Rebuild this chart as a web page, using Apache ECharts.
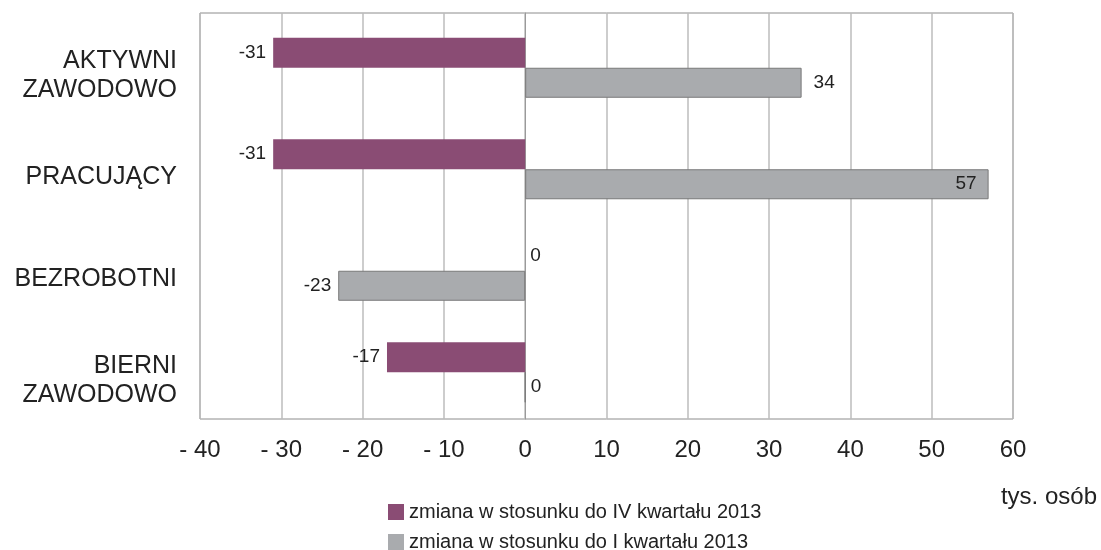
<!DOCTYPE html>
<html>
<head>
<meta charset="utf-8">
<title>Zmiany aktywności zawodowej</title>
<script src="https://cdn.jsdelivr.net/npm/echarts@6/dist/echarts.min.js"></script>
<style>
  html, body { margin: 0; padding: 0; background: #fff; }
  #chart { width: 1101px; height: 550px; }
</style>
</head>
<body>
<div id="chart"></div>
<script>
// kategorie od góry do dołu
const categories = ['AKTYWNI\nZAWODOWO', 'PRACUJĄCY', 'BEZROBOTNI', 'BIERNI\nZAWODOWO'];
const seriesNames = ['zmiana w stosunku do IV kwartału 2013', 'zmiana w stosunku do I kwartału 2013'];
const vsQ4 = [-31, -31, 0, -17];
const vsQ1 = [34, 57, -23, 0];
const xTicks = { min: -40, max: 60, step: 10 };
const unitLabel = 'tys. osób';

const font = '"Liberation Sans", Arial, sans-serif';
const purple = '#8a4c74';
const grey = '#a9abae';

// pozycja etykiety zależnie od znaku i długości słupka
function labelFor(v) {
    if (v >= 50) return { position: 'insideRight', distance: 12 };
    if (v < 0) return { position: 'left', distance: 7 };
    if (v === 0) return { position: 'right', distance: 5 };
    return { position: 'right', distance: 12 };
}

function makeData(values) {
    return values.map(v => ({ value: v, label: labelFor(v) }));
}

// jedna legenda na wiersz, żeby się nie zawijała
function legendRow(name, top) {
    return {
        left: 388, top: top,
        padding: 0,
        itemWidth: 16, itemHeight: 16,
        icon: 'rect',
        itemStyle: { borderWidth: 0 },
        textStyle: { fontSize: 20, color: '#222', fontFamily: font },
        data: [name]
    };
}

const chart = echarts.init(document.getElementById('chart'));
chart.setOption({
    animation: false,
    textStyle: { fontFamily: font },
    grid: {
        left: 200, right: 88, top: 13, bottom: 131,
        show: true, borderColor: '#8c8c8c', borderWidth: 1
    },
    legend: [legendRow(seriesNames[0], 502), legendRow(seriesNames[1], 532)],
    graphic: [{
        type: 'text', right: 4, top: 485,
        style: { text: unitLabel, fontSize: 24, fill: '#222', fontFamily: font }
    }],
    xAxis: {
        type: 'value',
        min: xTicks.min, max: xTicks.max, interval: xTicks.step,
        axisLine: { show: false },
        axisTick: { show: false },
        splitLine: { show: true, lineStyle: { color: '#bdbdbd', width: 1.5 } },
        axisLabel: {
            fontSize: 24, color: '#222', margin: 19,
            formatter: v => v < 0 ? '- ' + Math.abs(v) : String(v)
        }
    },
    yAxis: {
        type: 'category',
        inverse: true,
        data: categories,
        axisLine: { show: true, lineStyle: { color: '#9a9a9a' } },
        axisTick: { show: false },
        axisLabel: {
            fontSize: 25, color: '#222', margin: 23, lineHeight: 29,
            align: 'right',
            // pusta linia przesuwa napis lekko w dół, jak w oryginale
            formatter: v => '{p| }\n' + v,
            rich: { p: { height: 24, lineHeight: 24, fontSize: 2 } }
        }
    },
    series: [
        {
            // pusty odstęp: para słupków siedzi trochę niżej niż środek kategorii
            name: 'spacer', type: 'bar',
            barWidth: 8, barGap: '0%',
            silent: true,
            data: []
        },
        {
            name: seriesNames[0], type: 'bar',
            barWidth: 30, barGap: '0%',
            itemStyle: { color: purple },
            label: { show: true, fontSize: 19, color: '#222' },
            data: makeData(vsQ4)
        },
        {
            name: seriesNames[1], type: 'bar',
            barWidth: 30, barGap: '0%',
            itemStyle: { color: grey, borderColor: '#7a7a7a', borderWidth: 1 },
            label: { show: true, fontSize: 19, color: '#222' },
            data: makeData(vsQ1)
        }
    ]
});
</script>
</body>
</html>
